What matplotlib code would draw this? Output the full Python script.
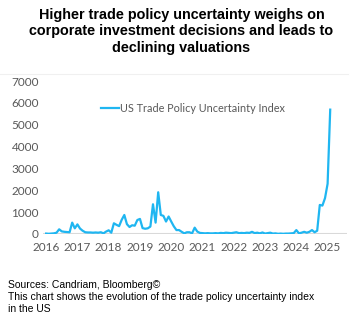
import numpy as np
import matplotlib
matplotlib.use("Agg")
import matplotlib.pyplot as plt
from matplotlib.lines import Line2D

# monthly index values, Jan 2016 onwards
tpu = [
    20, 10, 20, 30, 60, 215, 120, 100, 90, 80,
    520, 260, 440, 250, 150, 80, 70, 70, 60, 70,
    60, 80, 30, 110, 170, 60, 490, 420, 360, 650,
    870, 450, 320, 400, 380, 640, 690, 270, 240, 260,
    340, 1360, 520, 1910, 870, 830, 570, 800, 570, 350,
    180, 180, 100, 30, 80, 80, 30, 290, 110, 50,
    40, 30, 40, 30, 30, 40, 30, 50, 40, 60,
    50, 40, 60, 80, 40, 50, 40, 60, 50, 100,
    40, 60, 30, 70, 20, 40, 60, 20, 30, 10,
    20, 10, 20, 20, 30, 40, 180, 30, 60, 100,
    60, 100, 180, 80, 150, 1330, 1300, 1640, 2300, 5690,
]
start_year = 2016
years = list(range(2016, 2026))
yticks = list(range(0, 8000, 1000))
series_name = "US Trade Policy Uncertainty Index"

t = start_year + np.arange(len(tpu)) / 12.0

W, H = 363, 323
fig = plt.figure(figsize=(W / 100, H / 100), dpi=100)
ax = fig.add_axes([43 / W, 1 - 234 / H, (347 - 43) / W, (234 - 81) / H])

tick_font = "Lato"
grey = "#595959"

ax.axhline(0, color="#d9d9d9", lw=2.2, zorder=1)
ax.plot(t, tpu, color="#1fb6f1", lw=1.6, zorder=2, solid_joinstyle="round")

ax.set_xlim(2015.9, 2025.62)
ax.set_ylim(0, 7000)
ax.set_xticks(years)
ax.set_xticklabels([str(y) for y in years], fontsize=8.5, color=grey, family=tick_font)
ax.set_yticks(yticks)
ax.set_yticklabels([str(v) for v in yticks], fontsize=8.5, color=grey, family=tick_font)
ax.tick_params(axis="x", length=0, pad=6)
ax.tick_params(axis="y", length=0, pad=3)
for s in ax.spines.values():
    s.set_visible(False)

handle = Line2D([], [], color="#1fb6f1", lw=1.6)
leg = ax.legend([handle], [series_name], loc="upper left",
                bbox_to_anchor=(0.16, 0.92), frameon=False,
                handlelength=1.6, handletextpad=0.1,
                prop={"family": tick_font, "size": 7.8})
for txt in leg.get_texts():
    txt.set_color(grey)

# faint rule above the plot area
fig.add_artist(Line2D([0, 348 / W], [1 - 74 / H, 1 - 74 / H],
                      color="#f0f0f0", lw=0.8))

fig.text(0.5, 1 - 31.5 / H,
         "Higher trade policy uncertainty weighs on\n"
         "corporate investment decisions and leads to\n"
         "declining valuations",
         ha="center", va="center", fontsize=10.4, fontweight="bold",
         family="Liberation Sans", linespacing=1.26)

fig.text(8 / W, 1 - 297 / H,
         "Sources: Candriam, Bloomberg©\n"
         "This chart shows the evolution of the trade policy uncertainty index\n"
         "in the US",
         ha="left", va="center", fontsize=7.5, family="Liberation Sans",
         linespacing=1.3)

fig.savefig("out.png", dpi=100)
